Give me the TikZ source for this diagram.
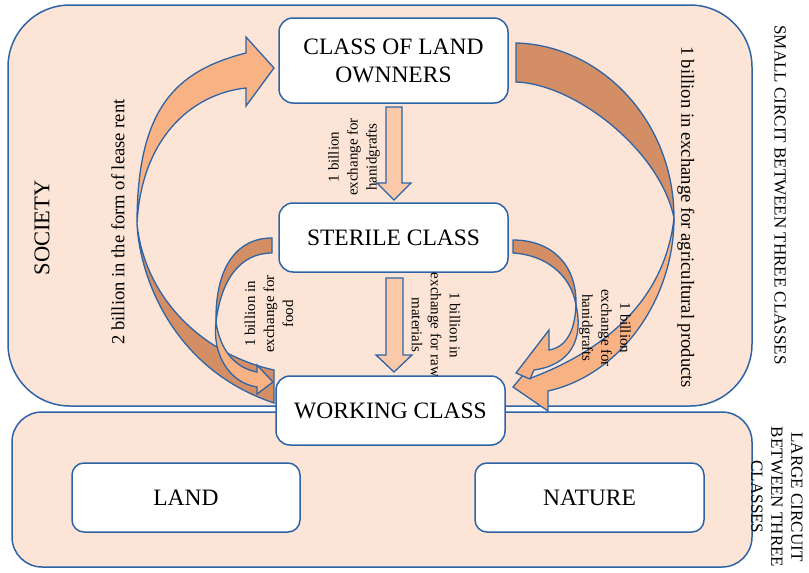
\documentclass[tikz,border=0pt]{standalone}
\usepackage{fontspec}
\setmainfont{Liberation Serif}
\definecolor{bordc}{HTML}{2E64A6}
\definecolor{panelc}{HTML}{FCE5D6}
\definecolor{bandlight}{HTML}{F8B283}
\definecolor{banddark}{HTML}{D38E66}
\definecolor{palearrow}{HTML}{F9C9AA}
\begin{document}
\begin{tikzpicture}[x=1pt,y=-1pt,
  panel/.style={draw=bordc, fill=panelc, line width=1.5pt},
  classbox/.style={draw=bordc, fill=white, line width=1.5pt, rounded corners=14pt,
    minimum width=229pt, minimum height=69pt, align=center, inner sep=0pt,
    font=\fontsize{23.5}{28}\selectfont},
  bandfront/.style={draw=bordc, fill=bandlight, line width=1.3pt, line join=miter},
  bandback/.style={draw=bordc, fill=banddark, line width=1.3pt},
  blockarrow/.style={draw=bordc, fill=palearrow, line width=1.3pt},
  smalllabel/.style={align=center, inner sep=0pt, font=\fontsize{15}{19}\selectfont},
  longlabel/.style={align=center, inner sep=0pt, font=\fontsize{18.6}{22}\selectfont},
  titlelabel/.style={align=center, inner sep=0pt, font=\fontsize{17}{20}\selectfont}]

\useasboundingbox (0,0) rectangle (809,573);

% the two circuits
\draw[panel, rounded corners=62pt] (8,5) rectangle (752,406);
\draw[panel, rounded corners=30pt] (12,412) rectangle (752,567);

% straight flows between the classes
\draw[blockarrow] (386,107) -- (402,107) -- (402,183) -- (411,183) -- (394,200)
  -- (377,183) -- (386,183) -- cycle;
\draw[blockarrow] (386,278) -- (403,278) -- (403,355) -- (412,355) -- (394,372)
  -- (376,355) -- (386,355) -- cycle;

% lease rent: working class -> land owners
\draw[bandback] (137,224) .. controls (140,280) and (175,370) .. (274,403)
  -- (274,370) .. controls (205,355) and (145,300) .. (137,224) -- cycle;
\draw[bandfront] (137,224) .. controls (137,109) and (175,71) .. (246,53)
  -- (246,37) -- (274,68) -- (246,106) -- (246,88)
  .. controls (190,94) and (141,140) .. (137,224) -- cycle;

% food: sterile class -> working class
\draw[bandback] (272,238) .. controls (235,238) and (215,270) .. (216,322)
  .. controls (221,280) and (240,253) .. (272,253) -- cycle;
\draw[bandfront] (216,322) .. controls (220,350) and (235,368) .. (257,372)
  -- (257,365) -- (273,382) -- (257,394) -- (257,387)
  .. controls (230,383) and (212,355) .. (216,322) -- cycle;

% agricultural products: land owners -> working class
\draw[bandback] (516,43) .. controls (600,45) and (674,120) .. (674,218)
  .. controls (660,150) and (575,84) .. (516,82) -- cycle;
\draw[bandfront] (674,218) .. controls (674,300) and (620,375) .. (548,391)
  -- (548,411) -- (513,387) -- (529,368) -- (531,378)
  .. controls (605,350) and (665,300) .. (674,218) -- cycle;

% handicrafts: sterile class -> working class
\draw[bandback] (513,240) .. controls (552,240) and (577,265) .. (576,305)
  .. controls (571,275) and (546,255) .. (513,253) -- cycle;
\draw[bandfront] (576,305) .. controls (575,330) and (567,347) .. (549,350)
  -- (549,330) -- (516,373) -- (530,379) -- (534,370)
  .. controls (570,365) and (584,340) .. (576,305) -- cycle;

% classes
\node[classbox, minimum height=85pt] (owners) at (393.5,60.5) {CLASS OF LAND\\OWNNERS};
\node[classbox] (sterile) at (393.5,237.5) {STERILE CLASS};
\node[classbox] (working) at (390.5,410.5) {WORKING CLASS};
\node[classbox, rounded corners=12pt, minimum width=228pt] (land) at (186,497.5) {LAND};
\node[classbox, rounded corners=12pt] (nature) at (589.5,497.5) {NATURE};

% flow labels
\node[smalllabel, rotate=90] (lbcraft) at (354,157) {1 billion\\exchange for\\hanidgrafts};
\node[smalllabel, rotate=-90] (lbraw) at (436,325) {1 billion in\\exchange for raw\\materials};
\node[smalllabel, rotate=90] (lbfood) at (269,314) {1 billion in\\exchange for\\food};
\node[smalllabel, rotate=-90] (lbcraft2) at (605,328) {1 billion\\exchange for\\hanidgrafts};
\node[longlabel, rotate=-90] (lbagri) at (686,217) {1 billion in exchange for agricultural products};
\node[longlabel, rotate=90] (lbrent) at (118,222) {2 billion in the form of lease rent};

% circuit titles
\node[inner sep=0pt, rotate=90, font=\fontsize{22.5}{26}\selectfont] (society) at (42,228) {SOCIETY};
\node[titlelabel, rotate=-90] (small) at (780,195) {SMALL CIRCIT BETWEEN THREE CLASSES};
\node[titlelabel, rotate=-90] (large) at (777,497) {LARGE CIRCUIT\\BETWEEN THREE\\CLASSES};
\end{tikzpicture}
\end{document}
